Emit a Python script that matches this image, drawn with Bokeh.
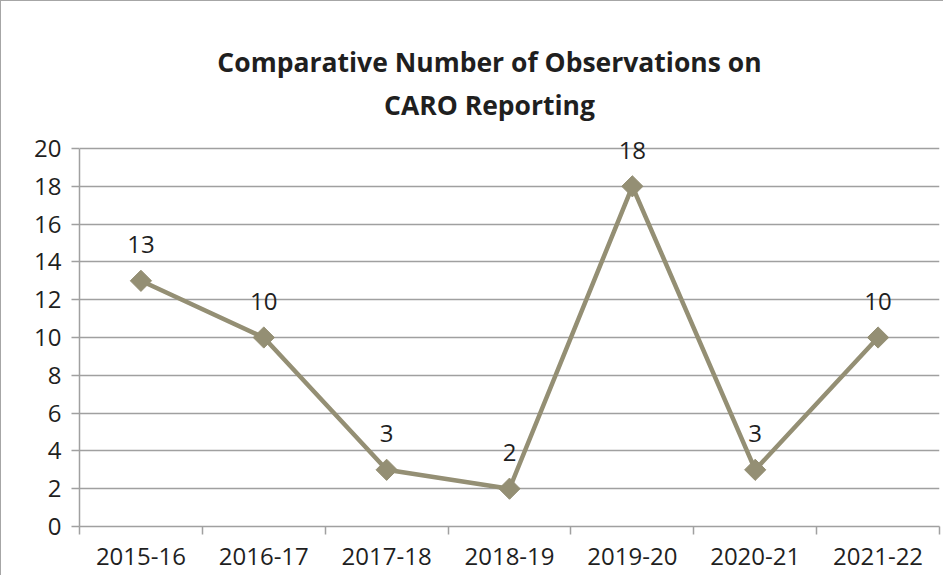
import math
from bokeh.plotting import figure
from bokeh.models import (FixedTicker, LinearAxis, LabelSet, Label, ColumnDataSource, Range1d)
from bokeh.core.properties import value
from bokeh.embed import file_html
from bokeh.resources import INLINE

categories = ["2015-16", "2016-17", "2017-18", "2018-19", "2019-20", "2020-21", "2021-22"]
observations = [13, 10, 3, 2, 18, 3, 10]
y_ticks = [0, 2, 4, 6, 8, 10, 12, 14, 16, 18, 20]
title_lines = ["Comparative Number of Observations on", "CARO Reporting"]

FONT = "Open Sans"
LINE_COLOR = "#948F74"
GRID = "#A0A0A0"
TEXT = "#1F1F1F"

xs = [i + 0.5 for i in range(len(categories))]
bounds = list(range(len(categories) + 1))
src = ColumnDataSource(dict(x=xs, y=observations, lab=[str(v) for v in observations]))

# The frame extends up to the top of the figure so the title (drawn in screen units)
# is not clipped; the y axis and grid are bounded to 0..20.
p = figure(width=943, height=575, output_backend="svg", toolbar_location=None,
           x_range=Range1d(0, len(categories)), y_range=Range1d(0, 27.78),
           min_border_left=78, min_border_right=5, min_border_top=0, min_border_bottom=50,
           x_axis_location=None, y_axis_location=None)
p.outline_line_color = None
p.background_fill_color = "white"
p.border_fill_color = "white"
p.styles = {"border-left": "1.5px solid #A6A6A6", "border-top": "1.5px solid #A6A6A6"}

# y axis
ya = LinearAxis(ticker=FixedTicker(ticks=y_ticks), bounds=(0, 20))
ya.axis_line_color = GRID
ya.axis_line_width = 1.5
ya.major_tick_line_color = GRID
ya.major_tick_line_width = 1.5
ya.major_tick_out = 8
ya.major_tick_in = 0
ya.minor_tick_line_color = None
ya.major_label_text_font = FONT
ya.major_label_text_font_size = "24px"
ya.major_label_text_color = TEXT
ya.major_label_standoff = 10
p.add_layout(ya, "left")

# x axis: labels at category centres, tick marks (minor) between categories
xa = LinearAxis(ticker=FixedTicker(ticks=xs, minor_ticks=bounds))
xa.major_label_overrides = {x: c for x, c in zip(xs, categories)}
xa.axis_line_color = GRID
xa.axis_line_width = 1.5
xa.major_tick_line_color = None
xa.major_tick_out = 8
xa.major_tick_in = 0
xa.minor_tick_line_color = GRID
xa.minor_tick_line_width = 1.5
xa.minor_tick_out = 8
xa.minor_tick_in = 0
xa.major_label_text_font = FONT
xa.major_label_text_font_size = "24px"
xa.major_label_text_color = TEXT
xa.major_label_standoff = 13
p.add_layout(xa, "below")

p.ygrid.ticker = FixedTicker(ticks=y_ticks)
p.ygrid.grid_line_color = GRID
p.ygrid.grid_line_width = 1.5
p.xgrid.grid_line_color = None

p.line("x", "y", source=src, line_color=LINE_COLOR, line_width=4.5)
p.scatter("x", "y", source=src, marker="square", angle=math.pi / 4, size=15,
          fill_color=LINE_COLOR, line_color=LINE_COLOR)
p.add_layout(LabelSet(x="x", y="y", text="lab", source=src, y_offset=36,
                      text_align="center", text_baseline="middle",
                      text_font=value(FONT), text_font_size=value("24px"),
                      text_color=TEXT))

for i, t in enumerate(title_lines):
    p.add_layout(Label(x=410, y=465 - 43 * i, x_units="screen", y_units="screen",
                       text=t, text_align="center", text_baseline="middle",
                       text_font=FONT, text_font_size="26.5px", text_font_style="bold",
                       text_color=TEXT))

open("out.html", "w").write(file_html(p, INLINE))
